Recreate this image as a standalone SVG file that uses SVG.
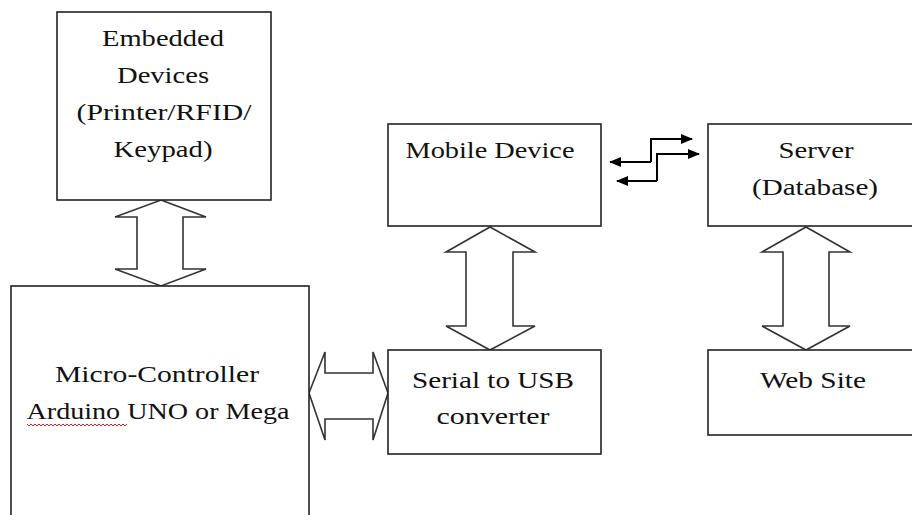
<svg xmlns="http://www.w3.org/2000/svg" width="912" height="515" viewBox="0 0 912 515">
<defs>
<style>
.box{fill:#fff;stroke:#222;stroke-width:1.6}
.t{font-family:"Liberation Serif","Times New Roman",serif;font-size:24px;fill:#111;text-anchor:middle}
.big{fill:#fff;stroke:#333;stroke-width:1.6;stroke-linejoin:miter}
.wire{fill:none;stroke:#000;stroke-width:2}
</style>
<marker id="ah" viewBox="0 0 12 10" refX="11" refY="5" markerWidth="12" markerHeight="10" markerUnits="userSpaceOnUse" orient="auto">
<path d="M0,0 L12,5 L0,10 Z" fill="#000"/>
</marker>
</defs>
<rect width="912" height="515" fill="#fff"/>

<g id="connectors">
<path class="big" d="M161,200 L206,217 L183,217 L183,269 L206,269 L161,286 L115,269 L137,269 L137,217 L115,217 Z"/>
<path class="big" d="M309,393 L325,352 L325,373 L373,373 L373,352 L388,393 L373,440 L373,419 L325,419 L325,440 Z"/>
<path class="big" d="M490,227 L535,252 L513,252 L513,326 L535,326 L490,350 L446,326 L466,326 L466,252 L446,252 Z"/>
<path class="big" d="M806,227 L850,252 L829,252 L829,326 L850,326 L806,350 L762,326 L783,326 L783,252 L762,252 Z"/>
<path class="wire" d="M651,162 L651,139 L692,139" marker-end="url(#ah)"/>
<path class="wire" d="M651,162 L610,162" marker-end="url(#ah)"/>
<path class="wire" d="M657,181 L657,154 L699,154" marker-end="url(#ah)"/>
<path class="wire" d="M657,181 L617,181" marker-end="url(#ah)"/>
</g>

<g id="embedded">
<rect class="box" x="57" y="12" width="214" height="188"/>
<text class="t" x="163" y="46" textLength="122" lengthAdjust="spacingAndGlyphs">Embedded</text>
<text class="t" x="163" y="83" textLength="92" lengthAdjust="spacingAndGlyphs">Devices</text>
<text class="t" x="164" y="120" textLength="175" lengthAdjust="spacingAndGlyphs">(Printer/RFID/</text>
<text class="t" x="163" y="157" textLength="99" lengthAdjust="spacingAndGlyphs">Keypad)</text>
</g>

<g id="micro">
<rect class="box" x="11" y="286" width="298" height="260"/>
<text class="t" x="157" y="382" textLength="204" lengthAdjust="spacingAndGlyphs">Micro-Controller</text>
<text class="t" x="158" y="419" textLength="263" lengthAdjust="spacingAndGlyphs">Arduino UNO or Mega</text>
<path d="M27,424 l2,2 l2,-2 l2,2 l2,-2 l2,2 l2,-2 l2,2 l2,-2 l2,2 l2,-2 l2,2 l2,-2 l2,2 l2,-2 l2,2 l2,-2 l2,2 l2,-2 l2,2 l2,-2 l2,2 l2,-2 l2,2 l2,-2 l2,2 l2,-2 l2,2 l2,-2 l2,2 l2,-2 l2,2 l2,-2 l2,2 l2,-2 l2,2 l2,-2 l2,2 l2,-2 l2,2 l2,-2 l2,2 l2,-2 l2,2 l2,-2 l2,2 l2,-2 l2,2 l2,-2 l2,2 l2,-2" fill="none" stroke="#e02020" stroke-width="1"/>
</g>

<g id="mobile">
<rect class="box" x="388" y="124" width="213" height="102"/>
<text class="t" x="490" y="158" textLength="169" lengthAdjust="spacingAndGlyphs">Mobile Device</text>
</g>

<g id="server">
<rect class="box" x="708" y="124" width="210" height="102"/>
<text class="t" x="816" y="158" textLength="75" lengthAdjust="spacingAndGlyphs">Server</text>
<text class="t" x="815" y="195" textLength="126" lengthAdjust="spacingAndGlyphs">(Database)</text>
</g>

<g id="serial">
<rect class="box" x="388" y="350" width="213" height="104"/>
<text class="t" x="493" y="388" textLength="162" lengthAdjust="spacingAndGlyphs">Serial to USB</text>
<text class="t" x="493" y="424" textLength="113" lengthAdjust="spacingAndGlyphs">converter</text>
</g>

<g id="website">
<rect class="box" x="708" y="350" width="210" height="85"/>
<text class="t" x="813" y="388" textLength="106" lengthAdjust="spacingAndGlyphs">Web Site</text>
</g>
</svg>
